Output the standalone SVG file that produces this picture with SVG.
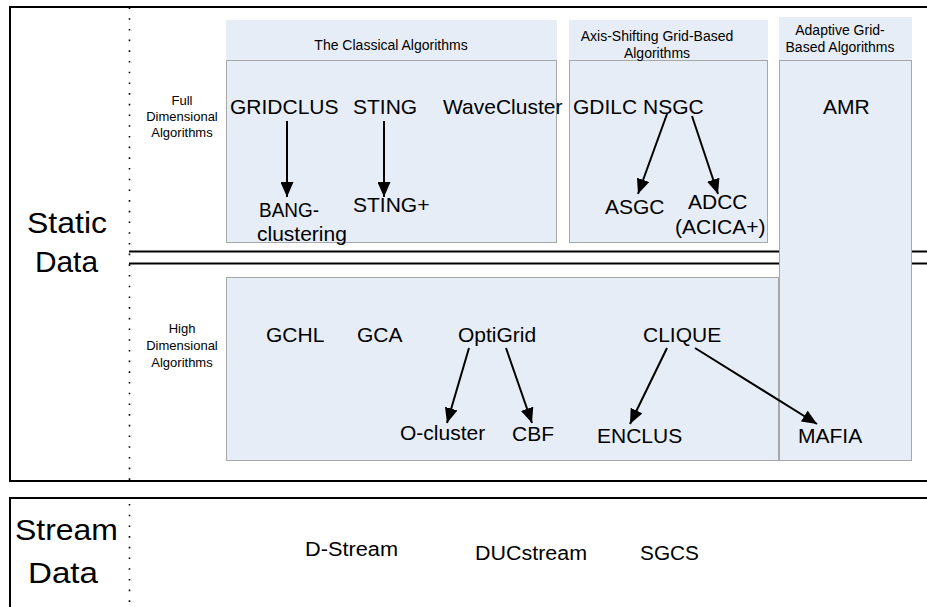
<svg xmlns="http://www.w3.org/2000/svg" width="927" height="607" viewBox="0 0 927 607">
  <style>
    .t { font-family: "Liberation Sans", Arial, sans-serif; fill: #000; }
    .big { font-size: 21px; }
    .hdr { font-size: 14px; text-anchor: middle; }
    .side { font-size: 13px; text-anchor: middle; }
    .cat { font-size: 29px; }
    .frame { fill: none; stroke: #000; stroke-width: 2; }
    .dots { stroke: #000; stroke-width: 1.6; stroke-dasharray: 1.6 9.1; fill: none; }
    .rule { stroke: #000; stroke-width: 1.8; }
    .panel { fill: #e7edf6; stroke: #a8a8a8; stroke-width: 1; }
    .head { fill: #e7edf6; stroke: none; }
    .edge { stroke: #000; stroke-width: 2; fill: none; marker-end: url(#arrow); }
  </style>
  <defs>
    <marker id="arrow" markerUnits="userSpaceOnUse" markerWidth="15" markerHeight="13" refX="15" refY="6.5" orient="auto">
      <path d="M0,0 L15,6.5 L0,13 Z" fill="#000"/>
    </marker>
  </defs>

  <rect width="927" height="607" fill="#fff"/>

  <!-- outer frames -->
  <g id="static-frame">
    <rect class="frame" x="10" y="7" width="930" height="474"/>
    <line class="dots" x1="129.5" y1="7.5" x2="129.5" y2="481"/>
    <line class="rule" x1="129" y1="251.5" x2="927" y2="251.5"/>
    <line class="rule" x1="129" y1="263.5" x2="927" y2="263.5"/>
    <text class="t cat" x="27" y="233" textLength="80" lengthAdjust="spacingAndGlyphs">Static</text>
    <text class="t cat" x="35" y="272" textLength="63" lengthAdjust="spacingAndGlyphs">Data</text>
  </g>
  <g id="stream-frame">
    <rect class="frame" x="10" y="498" width="930" height="130"/>
    <line class="dots" x1="129.5" y1="504" x2="129.5" y2="607"/>
    <text class="t cat" x="15" y="540" textLength="103" lengthAdjust="spacingAndGlyphs">Stream</text>
    <text class="t cat" x="28" y="583" textLength="70" lengthAdjust="spacingAndGlyphs">Data</text>
  </g>

  <!-- row labels -->
  <g id="full-dim-label">
    <text class="t side" x="182" y="104.5">Full</text>
    <text class="t side" x="182" y="120.5">Dimensional</text>
    <text class="t side" x="182" y="137">Algorithms</text>
  </g>
  <g id="high-dim-label">
    <text class="t side" x="182" y="333">High</text>
    <text class="t side" x="182" y="350">Dimensional</text>
    <text class="t side" x="182" y="366.5">Algorithms</text>
  </g>

  <!-- category panels -->
  <g id="classical">
    <rect class="head" x="226" y="20" width="331" height="40"/>
    <rect class="panel" x="226.5" y="60.5" width="330" height="182"/>
    <text class="t hdr" x="391" y="50">The Classical Algorithms</text>
  </g>
  <g id="axis-shifting">
    <rect class="head" x="569" y="20" width="199" height="40"/>
    <rect class="panel" x="569.5" y="60.5" width="198" height="182"/>
    <text class="t hdr" x="657" y="41">Axis-Shifting Grid-Based</text>
    <text class="t hdr" x="657" y="57.5">Algorithms</text>
  </g>
  <g id="high-dimensional">
    <rect class="panel" x="226.5" y="277.5" width="552" height="183"/>
  </g>
  <g id="adaptive">
    <rect class="head" x="779" y="17" width="133" height="43"/>
    <rect class="panel" x="779.5" y="60.5" width="132" height="400"/>
    <text class="t hdr" x="840" y="35">Adaptive Grid-</text>
    <text class="t hdr" x="840" y="52">Based Algorithms</text>
  </g>

  <!-- algorithm nodes -->
  <g id="gridclus"><text class="t big" x="230" y="114">GRIDCLUS</text></g>
  <g id="sting"><text class="t big" x="353" y="114">STING</text></g>
  <g id="wavecluster"><text class="t big" x="443" y="114">WaveCluster</text></g>
  <g id="bang"><text class="t big" x="259" y="217" textLength="60" lengthAdjust="spacingAndGlyphs">BANG-</text><text class="t big" x="257" y="241">clustering</text></g>
  <g id="sting-plus"><text class="t big" x="353" y="212">STING+</text></g>
  <g id="gdilc-nsgc"><text class="t big" x="573" y="114">GDILC NSGC</text></g>
  <g id="asgc"><text class="t big" x="605" y="214">ASGC</text></g>
  <g id="adcc"><text class="t big" x="688" y="209">ADCC</text><text class="t big" x="675" y="234">(ACICA+)</text></g>
  <g id="amr"><text class="t big" x="823" y="114">AMR</text></g>
  <g id="gchl"><text class="t big" x="266" y="342">GCHL</text></g>
  <g id="gca"><text class="t big" x="357" y="342">GCA</text></g>
  <g id="optigrid"><text class="t big" x="458" y="342">OptiGrid</text></g>
  <g id="clique"><text class="t big" x="643" y="342">CLIQUE</text></g>
  <g id="o-cluster"><text class="t big" x="400" y="440">O-cluster</text></g>
  <g id="cbf"><text class="t big" x="512" y="441">CBF</text></g>
  <g id="enclus"><text class="t big" x="597" y="443">ENCLUS</text></g>
  <g id="mafia"><text class="t big" x="798" y="443">MAFIA</text></g>
  <g id="d-stream"><text class="t" style="font-size:20px" x="305" y="556" textLength="93" lengthAdjust="spacingAndGlyphs">D-Stream</text></g>
  <g id="ducstream"><text class="t" style="font-size:20px" x="475" y="560" textLength="112" lengthAdjust="spacingAndGlyphs">DUCstream</text></g>
  <g id="sgcs"><text class="t" style="font-size:20px" x="640" y="560" textLength="59" lengthAdjust="spacingAndGlyphs">SGCS</text></g>

  <!-- derivation connectors -->
  <g id="connectors">
    <line class="edge" x1="287" y1="121" x2="287" y2="197"/>
    <line class="edge" x1="384" y1="121" x2="384" y2="197"/>
    <line class="edge" x1="667" y1="114" x2="638" y2="194"/>
    <line class="edge" x1="692" y1="116" x2="718" y2="194"/>
    <line class="edge" x1="469" y1="348" x2="447" y2="423"/>
    <line class="edge" x1="506" y1="348" x2="532" y2="423"/>
    <line class="edge" x1="667" y1="348" x2="630" y2="424"/>
    <line class="edge" x1="695" y1="348" x2="817" y2="424"/>
  </g>
</svg>
